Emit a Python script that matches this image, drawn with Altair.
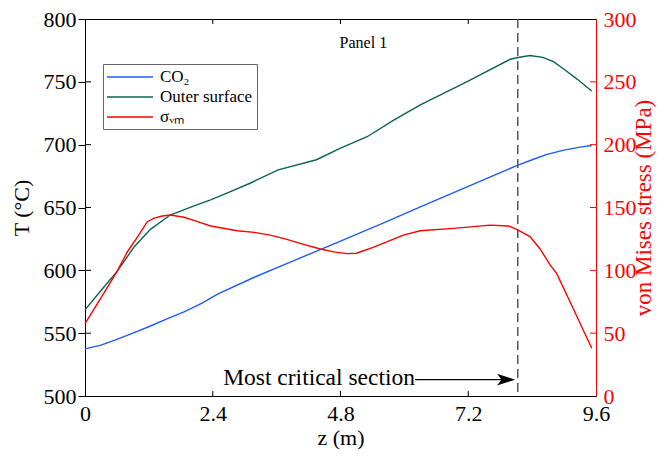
import altair as alt
import pandas as pd

FONT = "Liberation Serif"

# ---- data ----
z_co2 = [0.0, 0.3, 0.6, 0.9, 1.23, 1.55, 1.86, 2.2, 2.49, 3.18, 3.8, 4.8, 5.6, 6.3, 7.2, 8.11, 8.4, 8.68, 9.0, 9.3, 9.52]
t_co2 = [537.5, 540.5, 545, 550, 555.7, 561.5, 567, 574, 581, 594.5, 605.5, 623.3, 637.5, 650.5, 666.8, 683.3, 688, 692.3, 695.7, 698, 699.3]

z_out = [0.0, 0.3, 0.6, 0.93, 1.23, 1.6, 2.0, 2.36, 2.7, 3.1, 3.63, 4.35, 4.79, 5.3, 5.8, 6.3, 7.17, 7.99, 8.11, 8.36, 8.6, 8.8, 9.0, 9.25, 9.52]
t_out = [568.5, 584, 599, 619, 632.6, 644, 650.5, 656, 662, 669.3, 680, 688, 697, 706.3, 719.6, 731.6, 750, 768, 769.2, 771, 769.5, 766, 760, 752, 742.7]

z_vm = [0.0, 0.3, 0.6, 0.8, 1.0, 1.17, 1.3, 1.45, 1.6, 1.86, 2.1, 2.36, 2.86, 3.18, 3.48, 3.76, 4.04, 4.42, 4.7, 4.92, 5.1, 5.23, 5.4, 5.6, 5.98, 6.3, 6.92, 7.61, 7.96, 8.11, 8.36, 8.55, 8.74, 8.86, 9.2, 9.52]
s_vm = [57.5, 78, 99, 115, 127.5, 138.7, 141.5, 143.2, 144, 142.2, 139, 135.3, 131.5, 130.2, 128, 125, 121.5, 117, 114.5, 113.3, 113.6, 115.6, 118, 121.5, 128, 131.5, 133.4, 136, 135.3, 132.6, 126.8, 117, 104.2, 97.6, 67, 38]

series_names = ["CO₂", "Outer surface", "σᵥₘ"]
series_colors = ["#1e5aff", "#0a6450", "#ff0000"]

x_ticks = [0, 2.4, 4.8, 7.2, 9.6]
x_inner_ticks = [2.4, 4.8, 7.2]
t_ticks = [500, 550, 600, 650, 700, 750, 800]
t_inner_ticks = [550, 600, 650, 700, 750]
s_ticks = [0, 50, 100, 150, 200, 250, 300]
s_inner_ticks = [50, 100, 150, 200, 250]

critical_z = [8.13]
annot_text = ["Most critical section"]
annot_z = [6.2]
annot_T = [514.5]
arrow_tip_z = [7.91]
panel_text = ["Panel 1"]
panel_z = [5.23]
panel_T = [781.0]

# ---- tables ----
df_T = pd.DataFrame({
    "z": z_co2 + z_out,
    "T": t_co2 + t_out,
    "series": [series_names[0]] * len(z_co2) + [series_names[1]] * len(z_out),
})
df_S = pd.DataFrame({"z": z_vm, "S": s_vm, "series": [series_names[2]] * len(z_vm)})

W, H = 511, 377

xscale = alt.Scale(domain=[0, 9.6], nice=False, zero=False)
xaxis = alt.Axis(values=x_ticks, labelExpr="datum.value == 0 ? '0' : format(datum.value, '.1f')",
                 ticks=False, labelPadding=7, labelFlush=False,
                 title="z (m)", titlePadding=3, domainColor="black")
X = alt.X("z:Q", scale=xscale, axis=xaxis)

tscale = alt.Scale(domain=[500, 800], nice=False, zero=False)
taxis = alt.Axis(values=t_ticks, tickSize=7, labelPadding=2, title="T (°C)", titlePadding=10,
                 domainColor="black", tickColor="black")
YT = alt.Y("T:Q", scale=tscale, axis=taxis)

sscale = alt.Scale(domain=[0, 300], nice=False, zero=False)
saxis = alt.Axis(orient="right", values=s_ticks, ticks=False, labelPadding=7,
                 title="von Mises stress (MPa)", titleAngle=270, titleBaseline="top", titlePadding=-4,
                 titleFontSize=23,
                 domainColor="#ff0000", labelColor="#ff0000", titleColor="#ff0000")
YS = alt.Y("S:Q", scale=sscale, axis=saxis)

color = alt.Color(
    "series:N",
    scale=alt.Scale(domain=series_names, range=series_colors),
    legend=alt.Legend(
        title=None, orient="none", legendX=18, legendY=45,
        fillColor="white", strokeColor="#666666", padding=4, cornerRadius=0,
        symbolType="M-1.125,0H4.625", symbolSize=256, symbolStrokeWidth=1.5,
        labelFont=FONT, labelFontSize=17, labelOffset=35, rowPadding=3,
        labelLimit=300,
    ),
)

T_lines = alt.Chart(df_T).mark_line(strokeWidth=1.4).encode(x=X, y=YT, color=color, detail="series:N")

left_in = alt.Chart(pd.DataFrame({"T": t_inner_ticks})).mark_rule(color="black", strokeWidth=1).encode(
    y=YT, x=alt.value(0), x2=alt.value(6))
bottom_in = alt.Chart(pd.DataFrame({"z": x_inner_ticks})).mark_rule(color="black", strokeWidth=1).encode(
    x=X, y=alt.value(H), y2=alt.value(H - 5))
top_in = alt.Chart(pd.DataFrame({"z": x_inner_ticks})).mark_rule(color="black", strokeWidth=1).encode(
    x=X, y=alt.value(0), y2=alt.value(5))

dashed = alt.Chart(pd.DataFrame({"z": critical_z})).mark_rule(
    color="#555555", strokeWidth=1.5, strokeDash=[9, 5]).encode(x=X)

annot = alt.Chart(pd.DataFrame({"z": annot_z, "T": annot_T, "label": annot_text})).mark_text(
    align="right", baseline="middle", font=FONT, fontSize=23.5, color="black").encode(x=X, y=YT, text="label:N")

arrow_line = alt.Chart(pd.DataFrame({"z": annot_z, "z2": arrow_tip_z, "T": [513.0]})).mark_rule(
    color="black", strokeWidth=1.3).encode(x=X, x2="z2:Q", y=YT)

arrow_head = alt.Chart(pd.DataFrame({"z": arrow_tip_z, "T": [513.0]})).mark_point(
    shape="M1,0L-1,-0.65L-0.5,0L-1,0.65Z", size=324, filled=True, color="black", opacity=1).encode(x=X, y=YT)

panel = alt.Chart(pd.DataFrame({"z": panel_z, "T": panel_T, "label": panel_text})).mark_text(
    align="center", baseline="middle", font=FONT, fontSize=16, color="black").encode(x=X, y=YT, text="label:N")

S_line = alt.Chart(df_S).mark_line(strokeWidth=1.4).encode(x=X, y=YS, color=color)
right_in = alt.Chart(pd.DataFrame({"S": s_inner_ticks})).mark_rule(color="#ff0000", strokeWidth=1).encode(
    y=YS, x=alt.value(W - 6), x2=alt.value(W))

T_group = alt.layer(T_lines, left_in, bottom_in, top_in, dashed, arrow_line, arrow_head, annot, panel)
S_group = alt.layer(S_line, right_in)

chart = alt.layer(T_group, S_group).resolve_scale(y="independent").properties(
    width=W, height=H,
    autosize=alt.AutoSizeParams(type="none"),
    padding={"left": 77, "top": 11, "right": 62, "bottom": 55},
).configure_view(stroke="black", strokeWidth=1).configure_axis(
    grid=False, labelFont=FONT, titleFont=FONT, labelFontSize=22, titleFontSize=22,
    titleFontWeight="normal", labelColor="black", titleColor="black",
).configure_legend(labelFont=FONT)

chart.save("out.html", embed_options={"renderer": "svg", "actions": False})
